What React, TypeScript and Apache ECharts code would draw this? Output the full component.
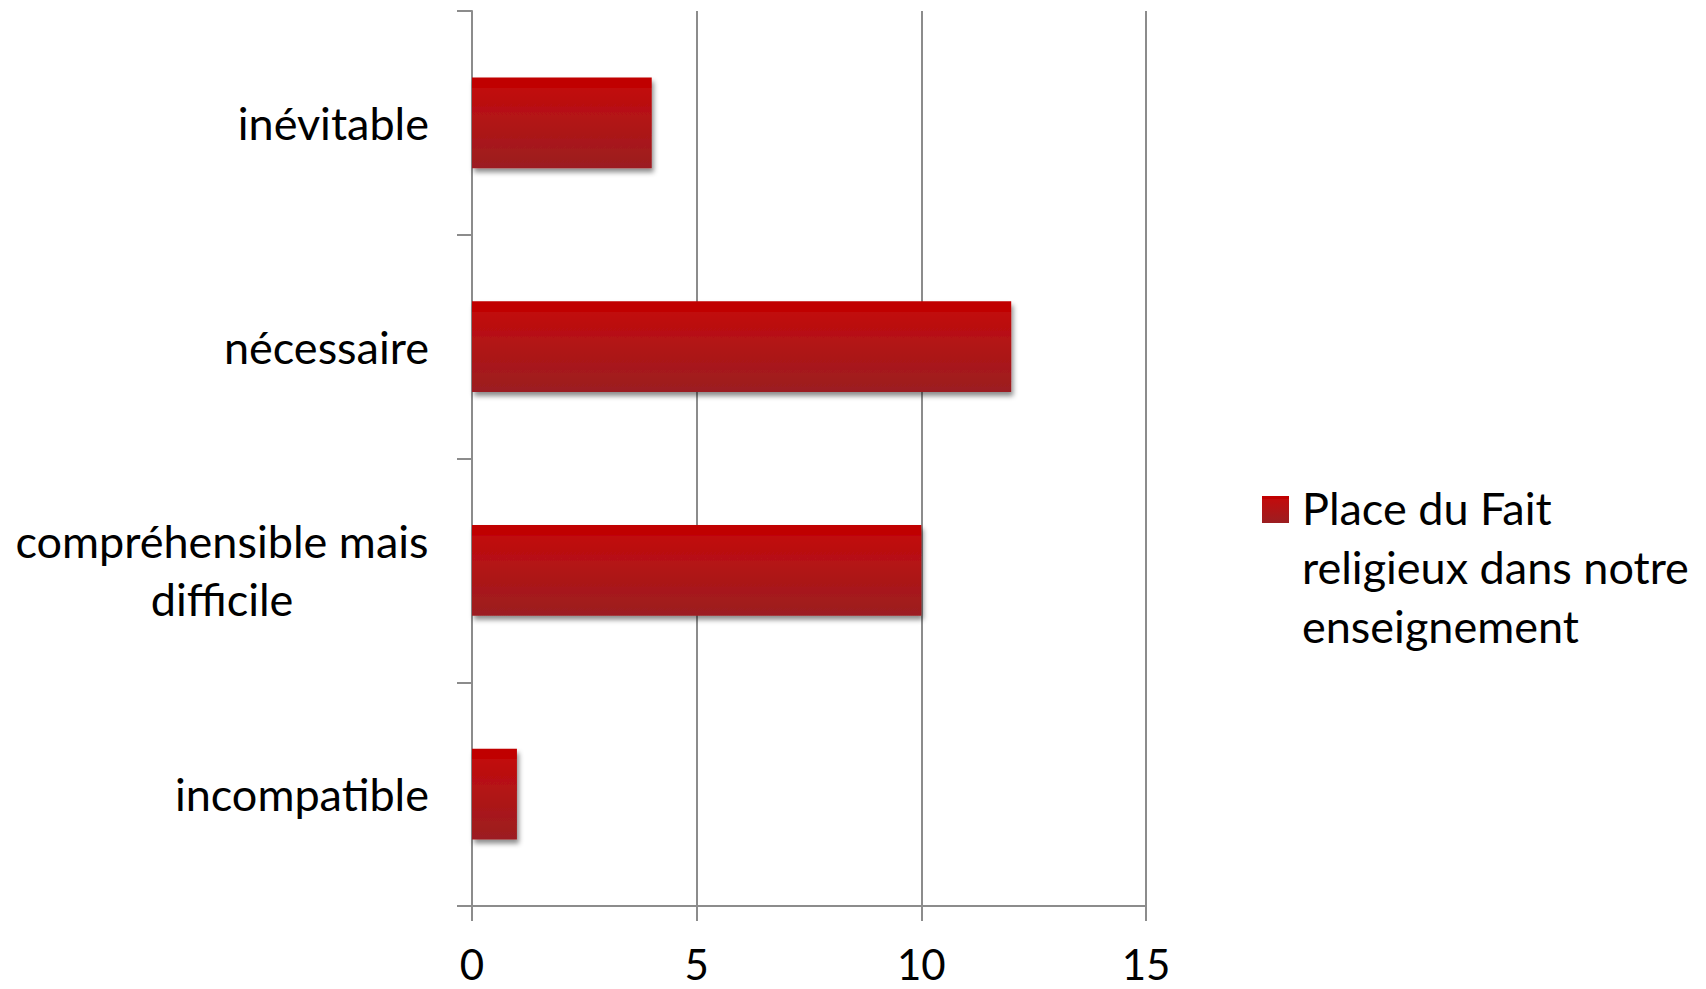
import React, { useEffect, useRef } from "react";
import * as echarts from "echarts";

const categories = [
  "incompatible",
  "compréhensible mais difficile",
  "nécessaire",
  "inévitable",
];
const values = [1, 10, 12, 4];
const xTickValues = [0, 5, 10, 15];
const seriesName = "Place du Fait religieux dans notre enseignement";
const legendLines = ["Place du Fait", "religieux dans notre", "enseignement"];

const FONT = "Lato, 'Open Sans', 'DejaVu Sans', sans-serif";
const FONT_SIZE = 45;
const GRID_COLOR = "#8c8c8c";

function barGradient() {
  return new echarts.graphic.LinearGradient(0, 0, 0, 1, [
    { offset: 0, color: "#c00000" },
    { offset: 0.11, color: "#c00000" },
    { offset: 0.12, color: "#c10c0d" },
    { offset: 1, color: "#9b1e21" },
  ]);
}

function measure(text: string): number {
  const c = document.createElement("canvas").getContext("2d");
  if (!c) return 416;
  c.font = `${FONT_SIZE}px ${FONT}`;
  return Math.ceil(c.measureText(text).width);
}

export default function App() {
  const ref = useRef<HTMLDivElement>(null);

  useEffect(() => {
    document.body.style.margin = "0";
    if (!ref.current) return;
    const chart = echarts.init(ref.current, undefined, { renderer: "svg" });
    const wrapW = measure("compréhensible mais");

    const option: echarts.EChartsOption = {
      animation: false,
      backgroundColor: "#ffffff",
      textStyle: { fontFamily: FONT },
      grid: { left: 472, right: 560, top: 11, bottom: 83, containLabel: false },
      xAxis: {
        type: "value",
        min: xTickValues[0],
        max: xTickValues[xTickValues.length - 1],
        interval: 5,
        axisLine: { show: true, lineStyle: { color: GRID_COLOR, width: 2 } },
        axisTick: { show: true, length: 15, lineStyle: { color: GRID_COLOR, width: 2 } },
        splitLine: { show: true, lineStyle: { color: GRID_COLOR, width: 2 } },
        axisLabel: {
          fontSize: 42,
          lineHeight: 42,
          color: "#000000",
          margin: 37,
          fontFamily: FONT,
        },
      },
      yAxis: {
        type: "category",
        data: categories,
        axisLine: { show: true, lineStyle: { color: GRID_COLOR, width: 2 } },
        axisTick: { show: true, length: 15, lineStyle: { color: GRID_COLOR, width: 2 } },
        splitLine: { show: false },
        axisLabel: {
          fontSize: FONT_SIZE,
          color: "#000000",
          margin: 43,
          fontFamily: FONT,
          lineHeight: 58,
          formatter: (v: string) =>
            v === "compréhensible mais difficile"
              ? "{c|compréhensible mais}\n{c|difficile}"
              : v,
          rich: {
            c: {
              width: wrapW,
              align: "center",
              fontSize: FONT_SIZE,
              lineHeight: 58,
              fontFamily: FONT,
              color: "#000000",
            },
          },
        },
      },
      series: [
        {
          name: seriesName,
          type: "bar",
          data: values,
          barWidth: "40.5%",
          itemStyle: {
            color: barGradient(),
            shadowColor: "rgba(0,0,0,0.45)",
            shadowBlur: 5,
            shadowOffsetX: 2,
            shadowOffsetY: 4,
          },
        },
      ],
      graphic: [
        {
          type: "rect",
          left: 1262,
          top: 496,
          shape: { width: 27, height: 27 },
          style: { fill: barGradient() },
        },
        {
          type: "text",
          left: 1302,
          top: 478,
          style: {
            text: legendLines.join("\n"),
            fontSize: FONT_SIZE,
            lineHeight: 59,
            fontFamily: FONT,
            fill: "#000000",
          },
        },
      ],
    };
    chart.setOption(option);
    return () => chart.dispose();
  }, []);

  return <div ref={ref} style={{ width: 1706, height: 989 }} />;
}
